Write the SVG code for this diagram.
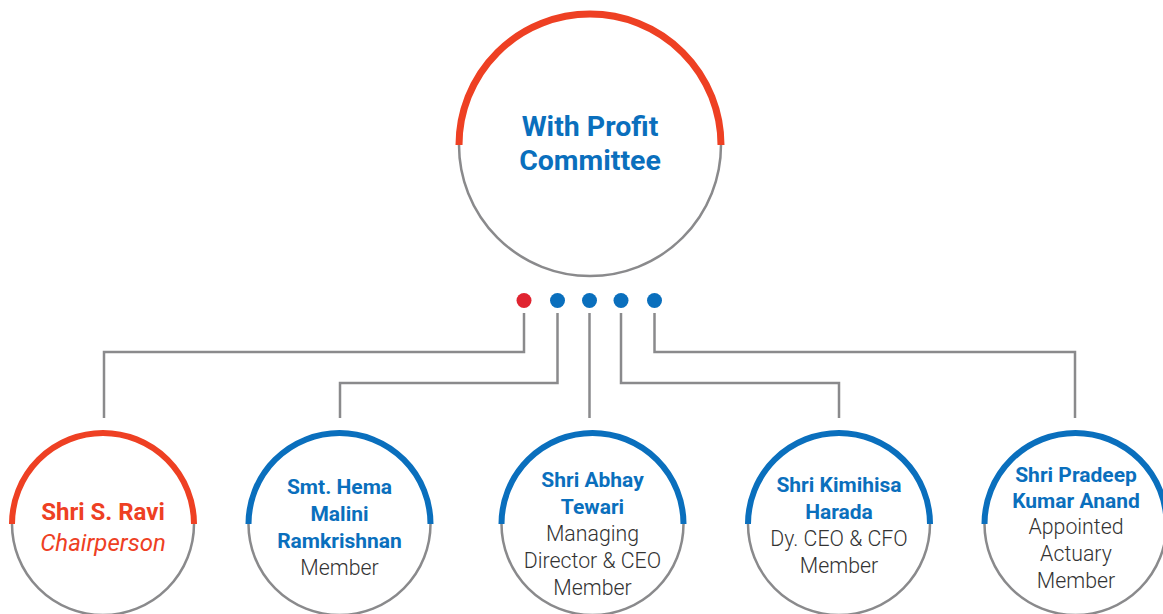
<svg xmlns="http://www.w3.org/2000/svg" width="1163" height="614" viewBox="0 0 1163 614">
<style>
.ring{fill:#fff;stroke:#8a8a8c;stroke-width:2.5}
.red{fill:none;stroke:#ee4023;stroke-width:7}
.blue{fill:none;stroke:#0a6fbd;stroke-width:6}
.conn{fill:none;stroke:#8a8a8c;stroke-width:2.5}
.title{font-family:Roboto,"Liberation Sans",sans-serif;font-weight:700;font-size:28.5px;fill:#0a6fbd;text-anchor:middle}
.name{font-family:Roboto,"Liberation Sans",sans-serif;font-weight:700;font-size:21px;fill:#0a6fbd;text-anchor:middle}
.role{font-family:Roboto,"Liberation Sans",sans-serif;font-weight:300;font-size:21.3px;fill:#333;text-anchor:middle}
.chair{font-family:Roboto,"Liberation Sans",sans-serif;font-size:24px;fill:#ee4023;text-anchor:middle}
</style>
<g id="connectors">
<path class="conn" d="M524,313 V352 H104 V418"/>
<path class="conn" d="M557.5,313 V383 H340 V418"/>
<path class="conn" d="M589.5,313 V418"/>
<path class="conn" d="M621,313 V383 H839 V418"/>
<path class="conn" d="M654.5,313 V352 H1075 V418"/>
</g>
<g id="dots">
<circle cx="524" cy="300.5" r="7.5" fill="#e02430"/>
<circle cx="557.5" cy="300.5" r="7.5" fill="#0a6fbd"/>
<circle cx="589.5" cy="300.5" r="7.5" fill="#0a6fbd"/>
<circle cx="621" cy="300.5" r="7.5" fill="#0a6fbd"/>
<circle cx="654.5" cy="300.5" r="7.5" fill="#0a6fbd"/>
</g>
<g id="committee">
<circle class="ring" cx="590" cy="145" r="131"/>
<path class="red" d="M459,145 A131,131 0 0 1 721,145"/>
<text class="title" x="590" y="136">With Profit</text>
<text class="title" x="590" y="170">Committee</text>
</g>
<g id="ravi">
<circle class="ring" cx="103" cy="524" r="91"/>
<path class="red" style="stroke-width:6" d="M12,524 A91,91 0 0 1 194,524"/>
<text class="chair" x="103" y="520" font-weight="700">Shri S. Ravi</text>
<text class="chair" x="103" y="551" font-style="italic">Chairperson</text>
</g>
<g id="hema">
<circle class="ring" cx="339.5" cy="524" r="91"/>
<path class="blue" d="M248.5,524 A91,91 0 0 1 430.5,524"/>
<text class="name" x="339.5" y="494">Smt. Hema</text>
<text class="name" x="339.5" y="521">Malini</text>
<text class="name" x="339.5" y="548">Ramkrishnan</text>
<text class="role" x="339.5" y="575">Member</text>
</g>
<g id="abhay">
<circle class="ring" cx="592.5" cy="524" r="91"/>
<path class="blue" d="M501.5,524 A91,91 0 0 1 683.5,524"/>
<text class="name" x="592.5" y="487">Shri Abhay</text>
<text class="name" x="592.5" y="514">Tewari</text>
<text class="role" x="592.5" y="541">Managing</text>
<text class="role" x="592.5" y="568">Director &amp; CEO</text>
<text class="role" x="592.5" y="595">Member</text>
</g>
<g id="kimihisa">
<circle class="ring" cx="839" cy="524" r="91"/>
<path class="blue" d="M748,524 A91,91 0 0 1 930,524"/>
<text class="name" x="839" y="492">Shri Kimihisa</text>
<text class="name" x="839" y="519">Harada</text>
<text class="role" x="839" y="546">Dy. CEO &amp; CFO</text>
<text class="role" x="839" y="573">Member</text>
</g>
<g id="pradeep">
<circle class="ring" cx="1075.5" cy="524" r="91"/>
<path class="blue" d="M984.5,524 A91,91 0 0 1 1166.5,524"/>
<text class="name" x="1076" y="482">Shri Pradeep</text>
<text class="name" x="1076" y="508">Kumar Anand</text>
<text class="role" x="1076" y="534">Appointed</text>
<text class="role" x="1076" y="561">Actuary</text>
<text class="role" x="1076" y="588">Member</text>
</g>
</svg>
